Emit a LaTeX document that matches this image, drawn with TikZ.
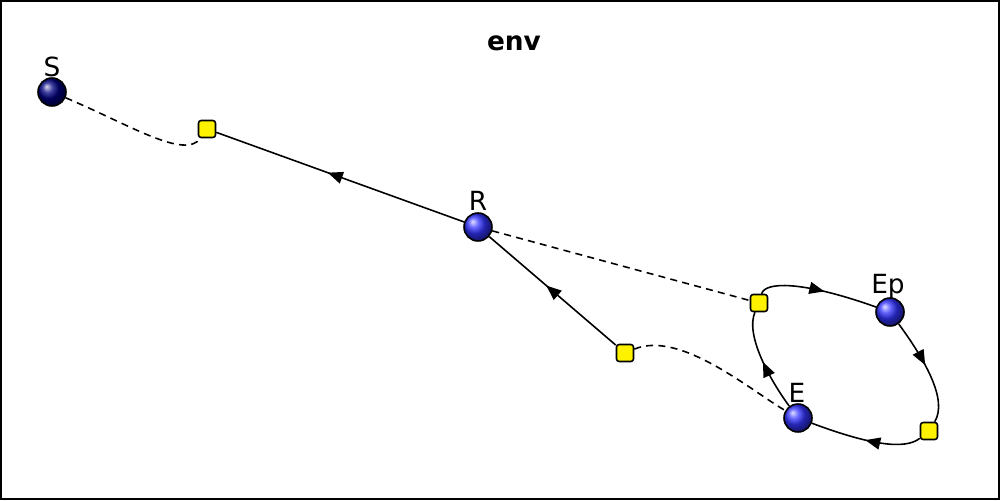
\documentclass[tikz,border=0pt]{standalone}
\usepackage{fontspec}
\setmainfont{DejaVu Sans}
\usetikzlibrary{decorations.markings,arrows.meta}
\begin{document}
\begin{tikzpicture}[x=0.02cm,y=-0.02cm,
  ball/.style={circle,minimum size=0.56cm,inner sep=0pt,draw=black,line width=0.9pt,ball color=blue!80!white},
  dball/.style={ball,ball color=blue!50!black},
  sq/.style={draw=black,fill=yellow,rounded corners=1.5pt,minimum size=0.34cm,inner sep=0pt,line width=0.9pt},
  lab/.style={font=\fontsize{15}{15}\selectfont},
  mid/.style={decoration={markings,mark=at position #1 with {\arrow{Triangle[length=0.3cm,width=0.24cm]}}},postaction={decorate}},
  ed/.style={line width=0.9pt},
  dsh/.style={line width=0.9pt,dash pattern=on 4pt off 3pt}]
\draw[thick] (1,1) rectangle (999,499);
\useasboundingbox (0,0) rectangle (1000,500);
\node[font=\bfseries\fontsize{15}{15}\selectfont] (t) at (514,43) {env};
\node[dball] (S) at (52,92) {};
\node[ball] (R) at (478,227) {};
\node[ball] (Ep) at (890,312) {};
\node[ball] (E) at (798,418) {};
\node[lab] at (52,67) {S};
\node[lab] at (478,201) {R};
\node[lab] at (888,287) {Ep};
\node[lab] at (797,393) {E};
\node[sq] (q1) at (207,129) {};
\node[sq] (q2) at (625,353) {};
\node[sq] (q3) at (759,303) {};
\node[sq] (q4) at (929,431) {};
\draw[dsh] (S) .. controls (130,125) and (185,160) .. (q1);
\draw[ed,mid=0.55] (R) -- (q1);
\draw[dsh] (R) -- (q3);
\draw[ed,mid=0.55] (q2) -- (R);
\draw[dsh] (q2) .. controls (680,330) and (750,390) .. (E);
\draw[ed,mid=0.55] (q3) .. controls (765,282) and (800,280) .. (Ep);
\draw[ed,mid=0.45] (Ep) .. controls (925,360) and (948,400) .. (q4);
\draw[ed,mid=0.5] (q4) .. controls (905,450) and (870,445) .. (E);
\draw[ed,mid=0.5] (E) .. controls (770,380) and (745,335) .. (q3);
\end{tikzpicture}
\end{document}
